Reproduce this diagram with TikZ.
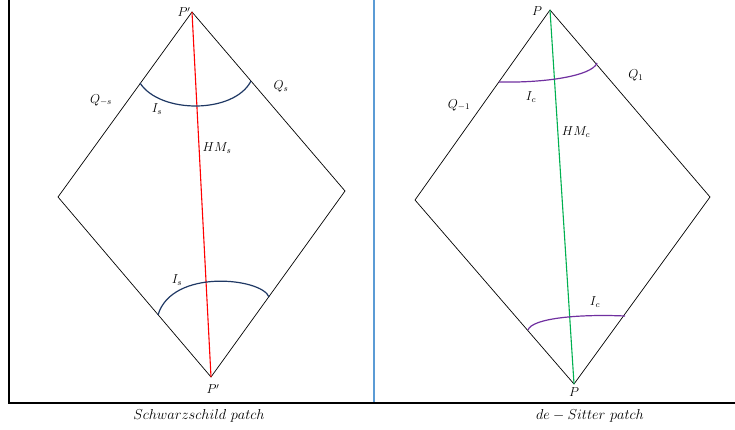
\documentclass[tikz,border=0pt]{standalone}
\usepackage{amsmath}
\definecolor{navyarc}{RGB}{31,56,100}
\definecolor{purplearc}{RGB}{112,48,160}
\definecolor{greenline}{RGB}{0,176,80}
\definecolor{sepblue}{RGB}{91,155,213}
\newcommand{\lb}[1]{\scalebox{1.08}{$#1$}}
\newcommand{\cp}[1]{\scalebox{1.2}{$#1$}}
\begin{document}
\begin{tikzpicture}[x=1pt,y=-1pt,
  edge/.style={draw=black,line width=0.7pt},
  frame/.style={draw=black,line width=2pt},
  lbl/.style={inner sep=0pt,font=\fontsize{12}{14}\selectfont},
  arcs/.style={line width=1.2pt}]
\useasboundingbox (0,0) rectangle (735,430);
% frame
\coordinate (ftl) at (9,0);
\coordinate (fbl) at (9,403);
\coordinate (fbr) at (735,403);
\coordinate (st) at (374,0);
\coordinate (sb) at (374,402);
\draw[frame] (ftl) -- (fbl) -- (fbr);
\draw[draw=sepblue,line width=2pt] (st) -- (sb);
% left diamond
\coordinate (LT) at (192,12);
\coordinate (LL) at (58,197);
\coordinate (LR) at (345,191);
\coordinate (LB) at (211,377);
\draw[edge] (LT) -- (LL) -- (LB) -- (LR) -- cycle;
\draw[red,line width=1.1pt] (LT) -- (LB);
\coordinate (la1) at (140,83);
\coordinate (la2) at (251,81);
\draw[navyarc,arcs] (la1) .. controls (160,114) and (234,114) .. (la2);
\coordinate (lb1) at (158,315);
\coordinate (lb2) at (269,297);
\draw[navyarc,arcs] (lb1) .. controls (172,268) and (262,278) .. (lb2);
\node[lbl] (lPt) at (184,12) {\lb{P'}};
\node[lbl] (lQm) at (101,100) {\lb{Q_{-s}}};
\node[lbl] (lQp) at (281,86) {\lb{Q_s}};
\node[lbl] (lIs1) at (157,109) {\lb{I_s}};
\node[lbl] (lHM) at (217,148) {\lb{HM_s}};
\node[lbl] (lIs2) at (177,280) {\lb{I_s}};
\node[lbl] (lPb) at (213,389) {\lb{P'}};
\node[lbl] (lcap) at (199,416) {\cp{Schwarzschild\ patch}};
% right diamond
\coordinate (RT) at (550,10);
\coordinate (RL) at (415,200);
\coordinate (RR) at (710,197);
\coordinate (RB) at (574,384);
\draw[edge] (RT) -- (RL) -- (RB) -- (RR) -- cycle;
\draw[greenline,line width=1.1pt] (RT) -- (RB);
\coordinate (ra1) at (499,82);
\coordinate (ra2) at (597,63);
\draw[purplearc,arcs] (ra1) .. controls (545,83) and (592,76) .. (ra2);
\coordinate (rb1) at (528,330);
\coordinate (rb2) at (625,316);
\draw[purplearc,arcs] (rb1) .. controls (532,318) and (580,314) .. (rb2);
\node[lbl] (rPt) at (537,11) {\lb{P}};
\node[lbl] (rQp) at (636,75) {\lb{Q_1}};
\node[lbl] (rQm) at (459,105) {\lb{Q_{-1}}};
\node[lbl] (rIc1) at (531,97) {\lb{I_c}};
\node[lbl] (rHM) at (576,132) {\lb{HM_c}};
\node[lbl] (rIc2) at (595,302) {\lb{I_c}};
\node[lbl] (rPb) at (574,392) {\lb{P}};
\node[lbl] (rcap) at (590,416) {\cp{de - Sitter\ patch}};
\end{tikzpicture}
\end{document}
